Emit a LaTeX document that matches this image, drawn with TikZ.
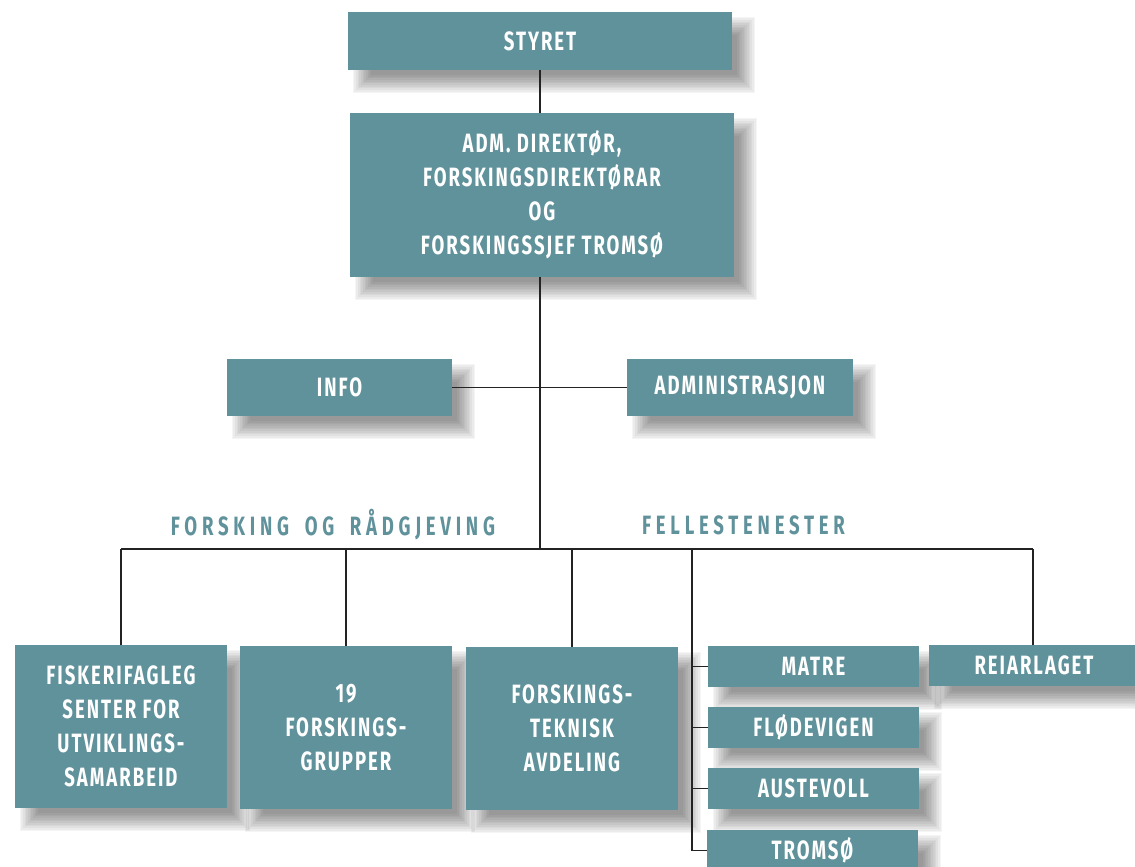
\documentclass[tikz,border=0pt]{standalone}
\usepackage{fontspec}
\newfontfamily\orgfont{Fira Sans}[FakeStretch=0.70,LetterSpace=7.5]
\newfontfamily\labelfont{Fira Sans}[FakeStretch=0.70,LetterSpace=18,WordSpace=1.7]
\definecolor{teal}{RGB}{96,146,155}
\definecolor{linec}{RGB}{35,35,35}
\pgfdeclarelayer{background}
\pgfsetlayers{background,main}
\tikzset{
  box/.style={fill=teal, text=white, inner sep=0pt, align=center,
    font=\orgfont\bfseries\fontsize{26.5}{34}\selectfont},
  grouplabel/.style={text=teal, inner sep=0pt, font=\labelfont\bfseries\fontsize{26.5}{34}\selectfont},
  conn/.style={draw=linec, line width=1.8pt},
  shadowlayer/.style={fill=black, fill opacity=0.038}
}
\begin{document}
\begin{tikzpicture}[x=1pt,y=-1pt]
\clip (0,0) rectangle (1135,867);
% boxes
\node[box, minimum width=384pt, minimum height=58pt] (styret) at (540,41) {STYRET};
\node[box, minimum width=384pt, minimum height=164pt] (adm) at (542,195) {ADM. DIREKTØR,\\FORSKINGSDIREKTØRAR\\OG\\FORSKINGSSJEF TROMSØ};
\node[box, minimum width=225pt, minimum height=57pt] (info) at (339.5,387.5) {INFO};
\node[box, minimum width=226pt, minimum height=57pt] (admin) at (740,387.5) {ADMINISTRASJON};
\node[grouplabel] (lforsk) at (333,525) {FORSKING OG RÅDGJEVING};
\node[grouplabel] (lfelles) at (743.5,525) {FELLESTENESTER};
\node[box, minimum width=212pt, minimum height=163pt] (fisk) at (121,726.5) {FISKERIFAGLEG\\SENTER FOR\\UTVIKLINGS-\\SAMARBEID};
\node[box, minimum width=212pt, minimum height=163pt] (grp) at (346,727.5) {19\\FORSKINGS-\\GRUPPER};
\node[box, minimum width=212pt, minimum height=163pt] (tek) at (572,728.5) {FORSKINGS-\\TEKNISK\\AVDELING};
\node[box, minimum width=211pt, minimum height=41pt] (matre) at (813.5,666.5) {MATRE};
\node[box, minimum width=211pt, minimum height=41pt] (flod) at (813.5,727.5) {FLØDEVIGEN};
\node[box, minimum width=211pt, minimum height=41pt] (aust) at (813.5,788.5) {AUSTEVOLL};
\node[box, minimum width=211pt, minimum height=41pt] (troms) at (812.5,850.5) {TROMSØ};
\node[box, minimum width=210pt, minimum height=41pt] (reiar) at (1034,665.5) {REIARLAGET};
% soft shadows
\begin{pgfonlayer}{background}
\fill[white] (0,0) rectangle (1135,867);
\foreach \n in {styret,adm,info,admin,fisk,grp,tek,matre,flod,aust,troms,reiar}{
  \foreach \i in {0,...,11}{
    \pgfmathsetmacro{\e}{9-18*\i/11}
    \fill[shadowlayer] ([xshift={14pt-\e pt}, yshift={-14pt+\e pt}]\n.north west)
      rectangle ([xshift={14pt+\e pt}, yshift={-14pt-\e pt}]\n.south east);
  }
}
\end{pgfonlayer}
% coordinates
\coordinate (hub) at (540,549);
\coordinate (busL) at (121,549);
\coordinate (busR) at (1033,549);
\coordinate (side) at (692,549);
\coordinate (sideend) at (692,850.5);
% connectors
\draw[conn] (styret.south -| hub) -- (adm.north -| hub);
\draw[conn] (adm.south -| hub) -- (hub);
\draw[conn] (info.east) -- (admin.west);
\draw[conn] (busL) -- (busR);
\draw[conn] (fisk.north) -- (fisk.north |- hub);
\draw[conn] (grp.north) -- (grp.north |- hub);
\draw[conn] (tek.north) -- (tek.north |- hub);
\draw[conn] (reiar.north -| busR) -- (busR);
\draw[conn] (side) -- (sideend) -- (troms.west);
\draw[conn] (side |- matre.west) -- (matre.west);
\draw[conn] (side |- flod.west) -- (flod.west);
\draw[conn] (side |- aust.west) -- (aust.west);
\end{tikzpicture}
\end{document}
